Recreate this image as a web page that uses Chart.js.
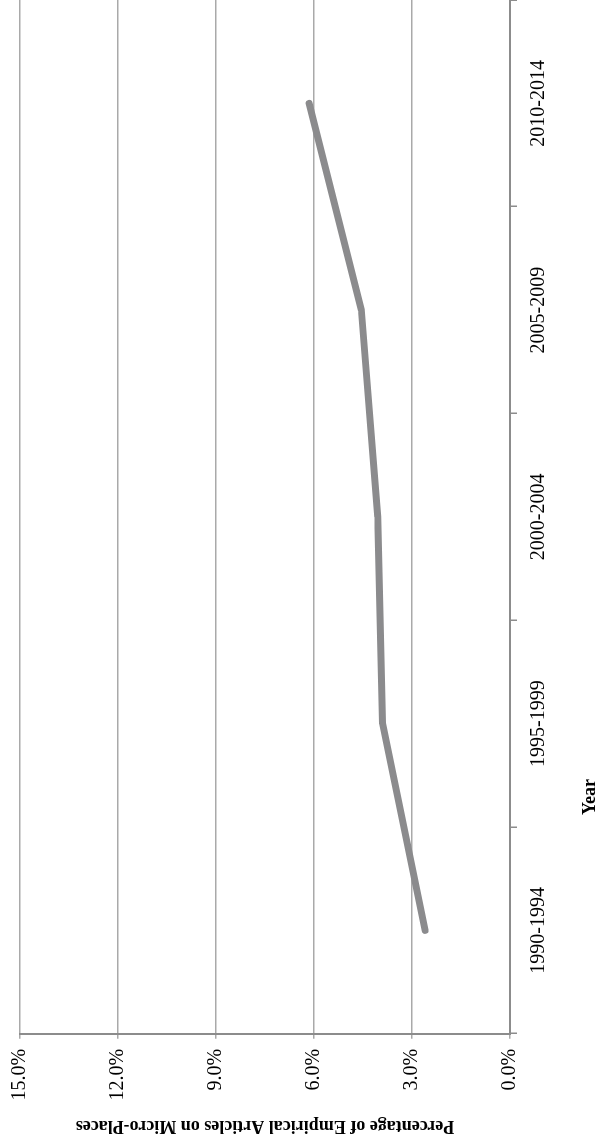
<!DOCTYPE html>
<html>
<head>
<meta charset="utf-8">
<script src="https://cdn.jsdelivr.net/npm/chart.js@4.4.0/dist/chart.umd.min.js"></script>
<style>
  html, body { margin: 0; padding: 0; background: #fff; overflow: hidden; }
  body { width: 597px; height: 1142px; position: relative; }
  /* the chart is drawn landscape and turned a quarter turn to the left */
  #wrap {
    position: absolute; left: 0; top: 0;
    width: 1142px; height: 597px;
    transform-origin: 0 0;
    transform: translate(0, 1142px) rotate(-90deg);
  }
</style>
</head>
<body>
<div id="wrap"><canvas id="microChart" width="1142" height="597"></canvas></div>
<script>
const periods = ['1990-1994', '1995-1999', '2000-2004', '2005-2009', '2010-2014']
const shares = [2.6, 3.9, 4.05, 4.55, 6.15]
const shareTicks = [0, 3, 6, 9, 12, 15]

const serif = "'Liberation Serif', 'Times New Roman', serif"

// "Year" sits off-centre in the original, so it is drawn by hand
const yearTitle = {
    id: 'yearTitle',
    afterDraw(chart) {
        const ctx = chart.ctx
        ctx.save()
        ctx.font = 'bold 18px ' + serif
        ctx.fillStyle = '#000'
        ctx.textAlign = 'center'
        ctx.textBaseline = 'middle'
        ctx.fillText('Year', 345, 590)
        ctx.restore()
    }
}

const ctx = document.getElementById('microChart').getContext('2d')

const microChart = new Chart(ctx, {
    type: 'line',
    data: {
        labels: periods,
        datasets: [{
            data: shares,
            borderColor: '#8b8b8d',
            borderWidth: 7,
            borderCapStyle: 'round',
            borderJoinStyle: 'round',
            tension: 0,
            pointRadius: 0,
            fill: false
        }]
    },
    options: {
        responsive: false,
        animation: false,
        devicePixelRatio: 1,
        layout: { padding: { top: 0, right: 0, left: 6, bottom: 0 } },
        plugins: {
            legend: { display: false },
            tooltip: { enabled: false }
        },
        scales: {
            x: {
                offset: true,
                grid: {
                    offset: true,
                    drawOnChartArea: false,
                    drawTicks: true,
                    tickLength: 7,
                    color: '#8c8c8c',
                    lineWidth: 1.5
                },
                border: { color: '#8c8c8c', width: 2 },
                ticks: {
                    color: '#000',
                    padding: 10,
                    maxRotation: 0,
                    font: { family: serif, size: 20 }
                },
                afterFit(scale) { scale.height = 87 }
            },
            y: {
                min: 0,
                max: 15,
                afterBuildTicks(scale) {
                    scale.ticks = shareTicks.map(v => ({ value: v }))
                },
                grid: {
                    color: '#a9a9a9',
                    lineWidth: 1.5,
                    tickLength: 5
                },
                border: { color: '#8c8c8c', width: 2 },
                ticks: {
                    color: '#000',
                    padding: 10,
                    font: { family: serif, size: 20, lineHeight: 1.0 },
                    callback: v => v.toFixed(1) + '%'
                },
                title: {
                    display: true,
                    text: 'Percentage of Empirical Articles on Micro-Places',
                    color: '#000',
                    padding: { top: 0, bottom: 4 },
                    font: { family: serif, size: 18, weight: 'bold' }
                }
            }
        }
    },
    plugins: [yearTitle]
})
</script>
</body>
</html>
